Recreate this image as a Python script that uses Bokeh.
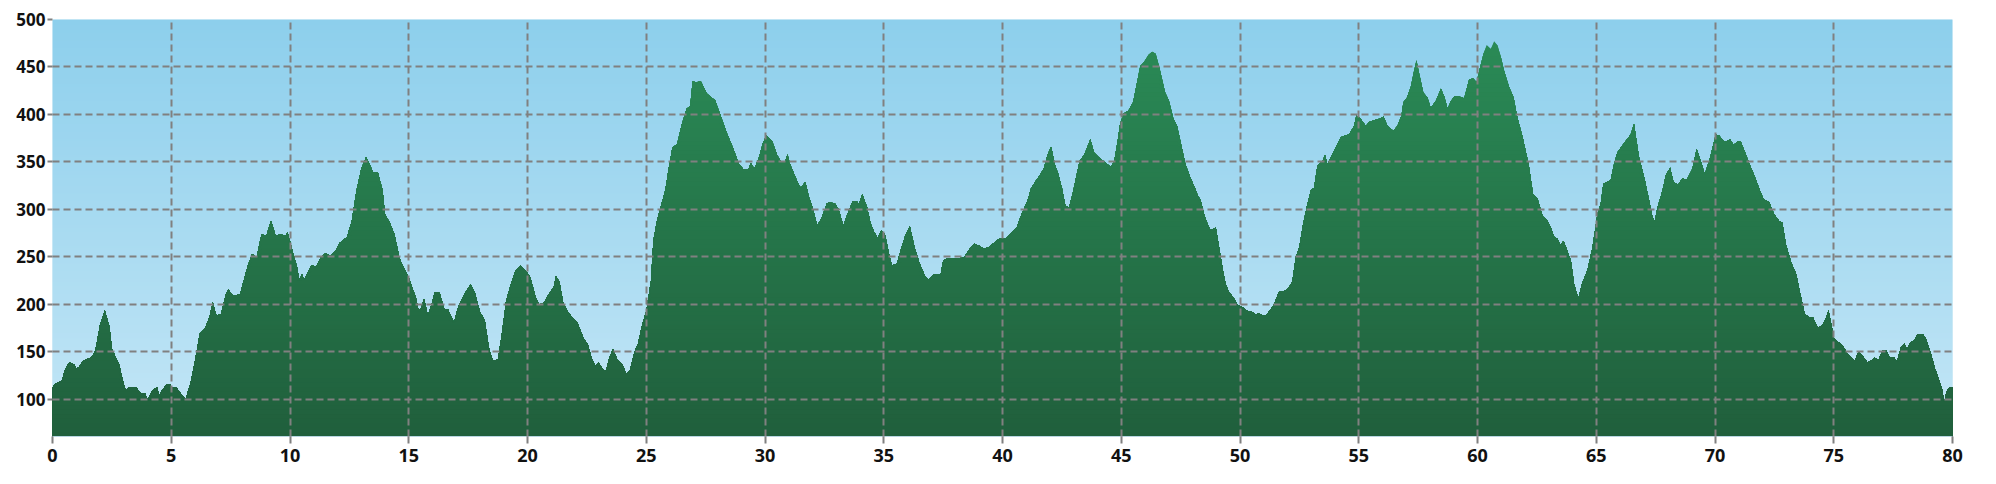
import numpy as np
from bokeh.plotting import figure
from bokeh.models import Range1d, FixedTicker
from bokeh.embed import file_html
from bokeh.resources import INLINE

km = [0.0, 0.1, 0.25, 0.4, 0.5, 0.7, 0.9, 1.0, 1.1, 1.3, 1.6, 1.7, 1.8, 2.0, 2.2, 2.4, 2.5, 2.8, 3.0, 3.1,
      3.2, 3.5, 3.7, 3.9, 4.0, 4.2, 4.4, 4.5, 4.6, 4.8, 4.95, 5.0, 5.2, 5.4, 5.6, 5.8, 6.0, 6.2, 6.4, 6.6,
      6.75, 6.9, 7.1, 7.3, 7.4, 7.6, 7.9, 8.2, 8.4, 8.6, 8.8, 9.0, 9.2, 9.4, 9.6, 9.8, 9.9, 10.1, 10.3, 10.4,
      10.5, 10.6, 10.9, 11.1, 11.3, 11.5, 11.7, 11.9, 12.1, 12.4, 12.6, 12.8, 13.0, 13.2, 13.35, 13.5, 13.7, 13.9, 14.0, 14.2,
      14.4, 14.6, 14.7, 15.0, 15.3, 15.4, 15.5, 15.65, 15.8, 15.95, 16.1, 16.3, 16.5, 16.65, 16.9, 17.1, 17.4, 17.6, 17.8, 18.0,
      18.2, 18.4, 18.55, 18.75, 18.9, 19.1, 19.3, 19.5, 19.7, 19.9, 20.1, 20.35, 20.5, 20.7, 20.9, 21.1, 21.2, 21.35, 21.5, 21.7,
      21.9, 22.1, 22.35, 22.55, 22.7, 22.85, 23.0, 23.15, 23.3, 23.45, 23.6, 23.8, 24.0, 24.15, 24.3, 24.5, 24.65, 24.8, 25.0, 25.2,
      25.3, 25.45, 25.6, 25.8, 25.95, 26.1, 26.3, 26.5, 26.7, 26.85, 26.95, 27.1, 27.3, 27.55, 27.75, 27.9, 28.1, 28.4, 28.65, 28.9,
      29.1, 29.3, 29.4, 29.55, 29.75, 29.9, 30.05, 30.3, 30.5, 30.65, 30.85, 30.95, 31.05, 31.35, 31.5, 31.7, 31.85, 32.0, 32.2, 32.4,
      32.6, 32.7, 32.95, 33.1, 33.3, 33.5, 33.7, 33.85, 33.95, 34.1, 34.2, 34.3, 34.45, 34.6, 34.75, 34.9, 35.05, 35.25, 35.35, 35.55,
      35.75, 35.9, 36.1, 36.3, 36.5, 36.75, 36.9, 37.1, 37.25, 37.4, 37.5, 37.7, 37.95, 38.2, 38.4, 38.6, 38.8, 39.0, 39.2, 39.4,
      39.65, 39.9, 40.15, 40.4, 40.6, 40.8, 41.05, 41.2, 41.4, 41.6, 41.75, 41.9, 42.05, 42.2, 42.35, 42.5, 42.65, 42.8, 42.95, 43.1,
      43.25, 43.45, 43.7, 43.85, 44.05, 44.3, 44.55, 44.7, 44.85, 44.95, 45.1, 45.3, 45.5, 45.65, 45.8, 45.95, 46.15, 46.3, 46.45, 46.6,
      46.85, 47.0, 47.2, 47.35, 47.55, 47.7, 47.9, 48.1, 48.2, 48.35, 48.49, 48.63, 48.77, 48.98, 49.12, 49.26, 49.4, 49.54, 49.75, 49.89,
      50.1, 50.31, 50.52, 50.66, 50.8, 50.94, 51.08, 51.29, 51.43, 51.64, 51.86, 52.07, 52.21, 52.35, 52.49, 52.63, 52.84, 52.98, 53.12, 53.26,
      53.47, 53.58, 53.68, 53.89, 54.1, 54.24, 54.43, 54.59, 54.8, 54.9, 55.06, 55.3, 55.44, 55.65, 55.93, 56.04, 56.21, 56.45, 56.63, 56.8,
      56.88, 57.02, 57.19, 57.33, 57.43, 57.58, 57.72, 57.89, 58.03, 58.24, 58.46, 58.6, 58.74, 58.88, 59.02, 59.23, 59.44, 59.65, 59.82, 59.96,
      60.11, 60.25, 60.39, 60.56, 60.7, 60.84, 60.98, 61.12, 61.33, 61.52, 61.66, 61.9, 62.15, 62.34, 62.53, 62.74, 62.95, 63.09, 63.23, 63.37,
      63.51, 63.62, 63.76, 63.93, 64.07, 64.25, 64.39, 64.63, 64.84, 65.05, 65.19, 65.3, 65.44, 65.61, 65.75, 65.89, 66.03, 66.24, 66.45, 66.59,
      66.8, 67.02, 67.23, 67.37, 67.46, 67.58, 67.79, 67.93, 68.11, 68.25, 68.45, 68.63, 68.81, 69.05, 69.23, 69.4, 69.57, 69.8, 70.03, 70.17,
      70.36, 70.5, 70.64, 70.78, 70.97, 71.09, 71.3, 71.48, 71.65, 71.86, 72.04, 72.28, 72.49, 72.7, 72.84, 72.98, 73.22, 73.4, 73.61, 73.78,
      74.01, 74.13, 74.25, 74.34, 74.53, 74.67, 74.78, 74.92, 75.02, 75.16, 75.37, 75.58, 75.75, 75.89, 76.03, 76.21, 76.42, 76.59, 76.73, 76.87,
      77.05, 77.2, 77.35, 77.55, 77.66, 77.83, 77.97, 78.08, 78.22, 78.39, 78.53, 78.74, 78.88, 79.09, 79.27, 79.44, 79.58, 79.65, 79.76, 79.86,
      80.0]
elevation = [112, 116, 118, 120, 130, 139, 137, 132, 134, 141, 144, 146, 151, 178, 194, 176, 153, 137, 116, 109,
             113, 113, 107, 106, 100, 109, 113, 104, 109, 116, 116, 113, 113, 106, 100, 116, 141, 169, 174, 186,
             202, 188, 190, 211, 216, 209, 211, 239, 253, 250, 274, 272, 288, 272, 274, 272, 276, 257, 239, 225,
             232, 226, 241, 240, 250, 254, 251, 256, 265, 271, 288, 320, 343, 355, 348, 339, 339, 320, 295, 286,
             274, 250, 243, 228, 207, 195, 195, 206, 188, 199, 213, 212, 195, 195, 181, 199, 213, 221, 211, 192,
             183, 151, 141, 142, 165, 204, 221, 236, 241, 236, 230, 207, 200, 202, 211, 218, 230, 223, 202, 192,
             186, 181, 165, 157, 144, 135, 139, 132, 130, 144, 153, 141, 137, 127, 130, 150, 158, 176, 193, 225,
             267, 288, 302, 320, 344, 365, 369, 390, 406, 409, 435, 434, 435, 422, 418, 415, 401, 380, 365, 348,
             342, 342, 349, 343, 355, 369, 378, 372, 358, 351, 351, 358, 348, 330, 323, 329, 313, 302, 283, 292,
             306, 308, 306, 300, 283, 297, 309, 309, 306, 316, 309, 302, 285, 276, 270, 278, 274, 250, 241, 243,
             260, 272, 282, 260, 244, 229, 226, 232, 231, 232, 246, 249, 248, 249, 250, 258, 264, 262, 259, 260,
             265, 270, 270, 276, 281, 295, 309, 322, 330, 337, 344, 358, 366, 348, 337, 323, 304, 302, 316, 334,
             351, 358, 374, 360, 355, 350, 345, 350, 372, 390, 401, 404, 413, 432, 451, 455, 463, 466, 464, 450,
             423, 415, 395, 388, 365, 348, 334, 323, 316, 309, 295, 285, 278, 281, 260, 239, 221, 213, 206, 200,
             197, 193, 192, 189, 191, 188, 188, 195, 200, 213, 214, 218, 225, 250, 260, 281, 306, 320, 323, 346,
             351, 357, 348, 358, 369, 376, 378, 379, 388, 399, 396, 388, 392, 394, 396, 398, 388, 383, 388, 399,
             413, 417, 429, 446, 457, 439, 423, 418, 407, 414, 427, 419, 406, 414, 419, 419, 417, 437, 438, 434,
             450, 464, 473, 469, 477, 473, 461, 446, 429, 418, 399, 376, 348, 316, 311, 293, 288, 281, 271, 269,
             262, 267, 258, 246, 221, 206, 221, 236, 260, 295, 306, 327, 329, 331, 348, 360, 365, 372, 379, 390,
             355, 334, 309, 292, 287, 302, 320, 336, 344, 329, 326, 333, 331, 343, 364, 351, 337, 355, 379, 378,
             372, 372, 374, 368, 372, 371, 358, 346, 336, 322, 311, 308, 295, 288, 286, 264, 243, 234, 209, 190,
             186, 186, 179, 176, 178, 185, 194, 176, 164, 161, 157, 148, 144, 141, 150, 146, 139, 141, 144, 141,
             151, 152, 144, 144, 140, 155, 159, 153, 160, 162, 169, 169, 164, 148, 132, 120, 109, 97, 109, 112,
             113]

x_ticks = list(range(0, 81, 5))
y_ticks = list(range(100, 501, 50))

Y_MIN, Y_MAX = 61, 500
X_MIN, X_MAX = 0, 80

x = np.array(km, dtype=float)
y = np.array(elevation, dtype=float)

p = figure(frame_width=1900, frame_height=417,
           x_range=Range1d(X_MIN, X_MAX), y_range=Range1d(Y_MIN, Y_MAX),
           output_backend="svg", toolbar_location=None,
           min_border_left=52, min_border_right=36, min_border_top=19, min_border_bottom=40)
p.outline_line_color = None
p.background_fill_color = "#a8dcf0"
p.border_fill_color = "white"


def lerp(c0, c1, t):
    return tuple(int(round(a + (b - a) * t)) for a, b in zip(c0, c1))


# sky gradient (vertical)
sky_top = (0x8D, 0xCF, 0xEC)
sky_bottom = (0xC3, 0xE6, 0xF6)
N = 256
img = np.empty((N, 1), dtype=np.uint32)
view = img.view(dtype=np.uint8).reshape((N, 1, 4))
for i in range(N):
    t = i / (N - 1)
    r, g, b = lerp(sky_bottom, sky_top, t)
    view[i, 0] = (r, g, b, 255)
p.image_rgba(image=[img], x=X_MIN, y=Y_MIN, dw=X_MAX - X_MIN, dh=Y_MAX - Y_MIN)

# green area with vertical gradient, drawn as stacked clipped layers
green_top = (0x2A, 0x8A, 0x56)
green_bottom = (0x20, 0x5F, 0x3C)
levels = np.linspace(480, Y_MIN, 90)
for L in levels:
    t = (L - Y_MIN) / (480 - Y_MIN)
    col = "#%02x%02x%02x" % lerp(green_bottom, green_top, t)
    p.varea(x=x, y1=np.full_like(y, Y_MIN), y2=np.minimum(y, L), fill_color=col)

# grid
for g in (p.xgrid, p.ygrid):
    g.grid_line_color = "#808080"
    g.grid_line_dash = "7 4"
    g.grid_line_width = 2
    g.level = "overlay"
p.xgrid.ticker = FixedTicker(ticks=x_ticks)
p.ygrid.ticker = FixedTicker(ticks=y_ticks)

# axes
p.xaxis.ticker = FixedTicker(ticks=x_ticks)
p.yaxis.ticker = FixedTicker(ticks=y_ticks)
for ax in (p.xaxis, p.yaxis):
    ax.major_label_text_font = "Open Sans"
    ax.major_label_text_font_style = "bold"
    ax.major_label_text_color = "#111111"
    ax.major_tick_line_color = "#808080"
    ax.major_tick_line_width = 2
    ax.major_tick_in = 0
    ax.minor_tick_line_color = None
p.xaxis.major_label_text_font_size = "18px"
p.yaxis.major_label_text_font_size = "17px"
p.xaxis.major_tick_out = 7
p.xaxis.major_label_standoff = 5
p.xaxis.axis_line_color = "#b9d6e3"
p.xaxis.axis_line_width = 1
p.yaxis.major_tick_out = 5
p.yaxis.major_label_standoff = 2
p.yaxis.axis_line_color = None

open("out.html", "w").write(file_html(p, INLINE))
